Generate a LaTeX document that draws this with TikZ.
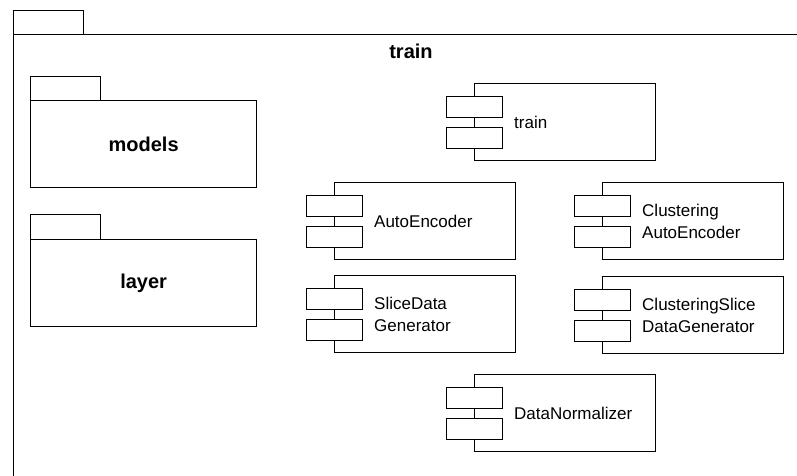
\documentclass[tikz,border=0pt]{standalone}
\usepackage{fontspec}
\setmainfont{Liberation Sans}
\tikzset{
  ln/.style={draw=black, line width=1.3pt},
  pkgbody/.style={ln, fill=white, anchor=north west, inner sep=0pt},
  mainbox/.style={ln, fill=white, anchor=north west, minimum width=181pt, minimum height=77pt, inner sep=0pt},
  smallbox/.style={ln, fill=white, anchor=north west, minimum width=56pt, minimum height=21pt, inner sep=0pt},
  comptext/.style={anchor=west, align=left, inner sep=0pt, font=\fontsize{17}{22}\selectfont},
  pkgtext/.style={inner sep=0pt, font=\fontsize{20}{24}\selectfont\bfseries},
}
\newcommand{\mycomp}[4]{%
  \node[mainbox] (#1) at (#2,#3) {};
  \node[smallbox] (#1-a) at ([xshift=-28pt,yshift=-13pt]#1.north west) {};
  \node[smallbox] (#1-b) at ([xshift=-28pt,yshift=-44pt]#1.north west) {};
  \node[comptext] (#1-t) at ([xshift=40pt]#1.west) {#4};
}
\begin{document}
\begin{tikzpicture}[x=1pt,y=-1pt]
\useasboundingbox (0,0) rectangle (797,476);
\clip (0,0) rectangle (797,476);
% outer package
\node[pkgbody, minimum width=70pt, minimum height=24pt] (outertab) at (13,10) {};
\node[pkgbody, minimum width=800pt, minimum height=460pt] (outer) at (13,34) {};
\node[pkgtext] (outerlabel) at (411,51) {train};
% models
\node[pkgbody, minimum width=70pt, minimum height=24pt] (modelstab) at (30,76) {};
\node[pkgbody, minimum width=226pt, minimum height=87pt] (models) at (30,100) {};
\node[pkgtext] (modelslabel) at (models.center) {models};
% layer
\node[pkgbody, minimum width=70pt, minimum height=25pt] (layertab) at (30,214) {};
\node[pkgbody, minimum width=226pt, minimum height=87pt] (layer) at (30,239) {};
\node[pkgtext] (layerlabel) at (layer.center) {layer};
% components
\mycomp{trainc}{474}{83}{train}
\mycomp{ae}{334}{182}{AutoEncoder}
\mycomp{cae}{602}{182}{Clustering\\AutoEncoder}
\mycomp{sdg}{334}{275}{SliceData\\Generator}
\mycomp{csdg}{602}{276}{ClusteringSlice\\DataGenerator}
\mycomp{dn}{474}{374}{DataNormalizer}
\end{tikzpicture}
\end{document}
